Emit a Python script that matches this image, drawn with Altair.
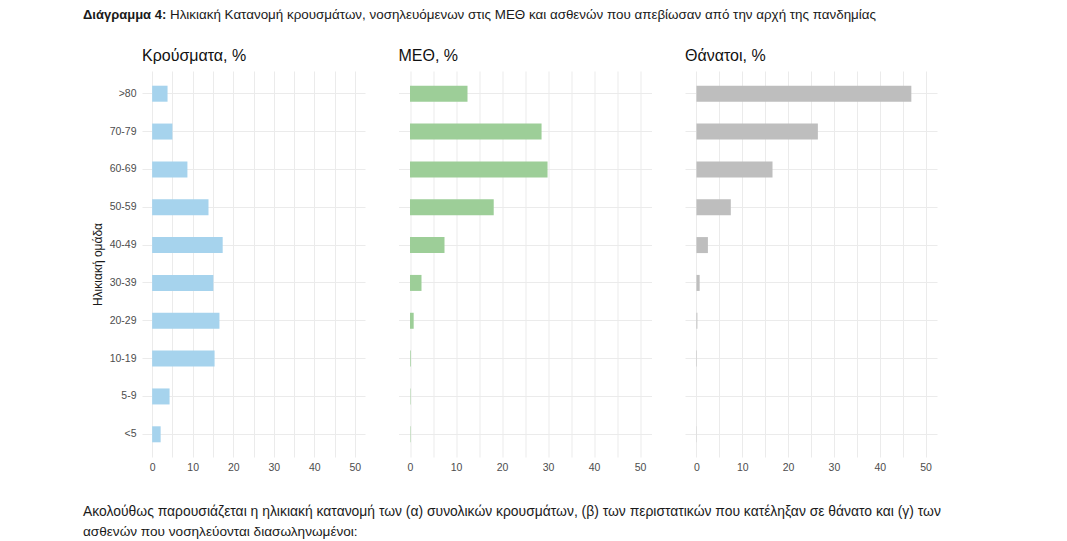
import altair as alt
import pandas as pd

# ---------------- data ----------------
ages = [">80", "70-79", "60-69", "50-59", "40-49", "30-39", "20-29", "10-19", "5-9", "<5"]
cases = [3.8, 5.0, 8.7, 13.9, 17.4, 15.1, 16.6, 15.4, 4.3, 2.1]
icu = [12.5, 28.6, 29.9, 18.2, 7.5, 2.5, 0.8, 0.15, 0.1, 0.1]
deaths = [46.9, 26.5, 16.6, 7.5, 2.5, 0.7, 0.2, 0.1, 0.0, 0.05]

panel_titles = ["Κρούσματα, %", "ΜΕΘ, %", "Θάνατοι, %"]
panel_colors = ["#a6d3ed", "#9dce98", "#bebebe"]
y_title = "Ηλικιακή ομάδα"
x_ticks = [0, 5, 10, 15, 20, 25, 30, 35, 40, 45, 50]

header_bold = ["Διάγραμμα 4:"]
header_rest = ["Ηλικιακή Κατανομή κρουσμάτων, νοσηλευόμενων στις ΜΕΘ και ασθενών που απεβίωσαν από την αρχή της πανδημίας"]
footer_lines = [
    "Ακολούθως παρουσιάζεται η ηλικιακή κατανομή των (α) συνολικών κρουσμάτων, (β) των περιστατικών που κατέληξαν σε θάνατο και (γ) των",
    "ασθενών που νοσηλεύονται διασωληνωμένοι:",
]

FONT = "Liberation Sans"
GRID = "#ebebeb"
PLOT_H = 386
TXT = "#1a1a1a"


def text_layer(lines, x, y, size, weight="normal", color=TXT):
    return alt.Chart(pd.DataFrame({"t": lines})).mark_text(
        align="left", baseline="alphabetic", font=FONT, fontSize=size,
        fontWeight=weight, color=color
    ).encode(x=alt.value(x), y=alt.value(y), text="t:N")


def panel(values, title, color, width, first):
    df = pd.DataFrame({"age": ages, "value": values})
    yaxis = alt.Axis(
        title=y_title if first else None,
        labels=first,
        ticks=False,
        domain=False,
        grid=True,
        gridColor=GRID,
        gridWidth=1,
        labelColor="#4d4d4d",
        labelFontSize=10.5,
        labelFont=FONT,
        labelPadding=6,
        titleFont=FONT,
        titleFontSize=12,
        titleFontWeight="normal",
        titleColor=TXT,
        titlePadding=5,
    )
    xaxis = alt.Axis(
        title=None,
        values=x_ticks,
        labelExpr="datum.value % 10 == 0 ? datum.label : ''",
        ticks=False,
        domain=False,
        grid=True,
        gridColor=GRID,
        gridWidth=1,
        labelColor="#4d4d4d",
        labelFontSize=10.5,
        labelFont=FONT,
        labelPadding=5,
    )
    bars = alt.Chart(df).mark_bar(size=16, color=color).encode(
        x=alt.X("value:Q", scale=alt.Scale(domain=[-2.5, 52.5], nice=False), axis=xaxis),
        y=alt.Y("age:N", sort=ages,
                scale=alt.Scale(paddingInner=0, paddingOuter=0.1), axis=yaxis),
    )
    layers = [bars, text_layer([title], 0, -10, 16, color="#111111")]
    if first:
        layers += [
            text_layer(header_bold, -59, -52, 13, weight="bold"),
            text_layer(header_rest, 28, -52, 13.4),
            text_layer(footer_lines[:1], -59, 445, 13.9),
            text_layer(footer_lines[1:], -59, 464.5, 13.6),
        ]
    return alt.layer(*layers).properties(width=width, height=PLOT_H)


p1 = panel(cases, panel_titles[0], panel_colors[0], 223, True)
p2 = panel(icu, panel_titles[1], panel_colors[1], 253, False)
p3 = panel(deaths, panel_titles[2], panel_colors[2], 252, False)

chart = (
    alt.hconcat(p1, p2, p3, spacing=33.5, bounds="flush")
    .properties(padding={"left": 75, "top": 0, "right": 5, "bottom": 0},
                background="white")
    .configure_view(strokeWidth=0, stroke="transparent")
)

chart.save("out.html", embed_options={"renderer": "svg", "actions": False})
